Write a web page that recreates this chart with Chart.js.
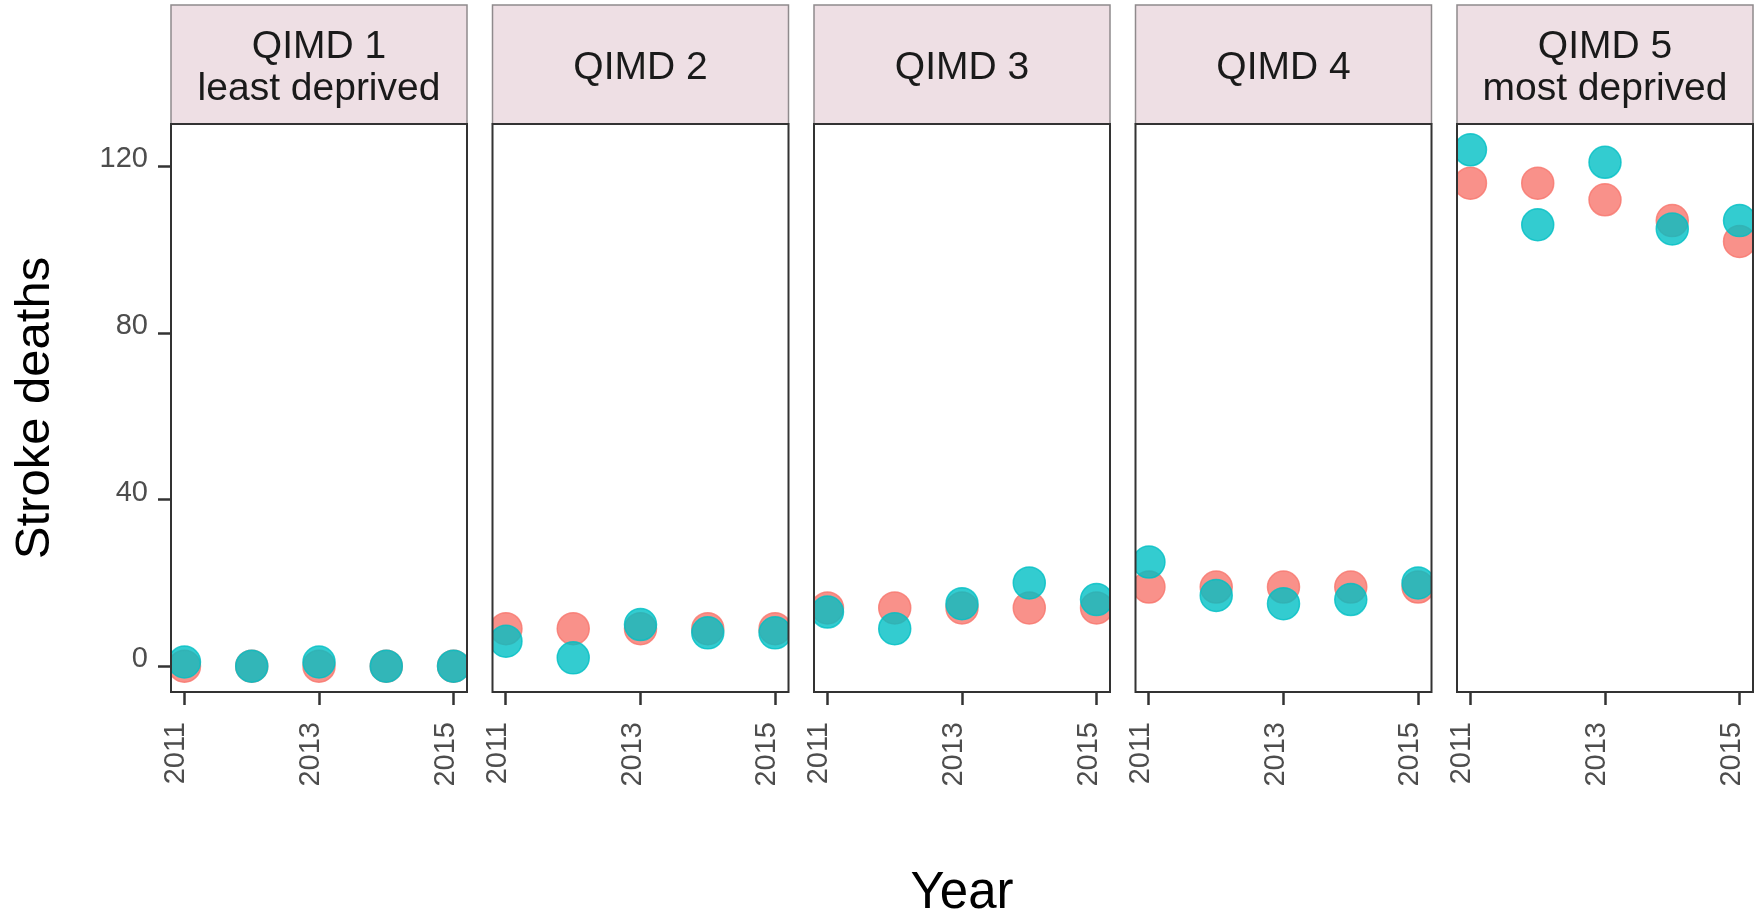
<!DOCTYPE html>
<html><head><meta charset="utf-8">
<script src="https://cdn.jsdelivr.net/npm/chart.js@4/dist/chart.umd.min.js"></script>
<style>
html,body{margin:0;padding:0;background:#fff;overflow:hidden;width:1756px;height:915px;}
#wrap{position:relative;width:1756px;height:915px;overflow:hidden;background:#fff;}
canvas{position:absolute;top:0;}
</style></head><body><div id="wrap"></div>
<script>
// ---- data ----
const years = [2011, 2012, 2013, 2014, 2015];
const panelTitles = [['QIMD 1', 'least deprived'], ['QIMD 2'], ['QIMD 3'], ['QIMD 4'], ['QIMD 5', 'most deprived']];
const seriesNames = ['Series 1', 'Series 2'];
const redQ1 = [0, 0, 0, 0, 0];
const tealQ1 = [1, 0, 1, 0, 0];
const redQ2 = [9, 9, 9, 9, 9];
const tealQ2 = [6, 2, 10, 8, 8];
const redQ3 = [14, 14, 14, 14, 14];
const tealQ3 = [13, 9, 15, 20, 16];
const redQ4 = [19, 19, 19, 19, 19];
const tealQ4 = [25, 17, 15, 16, 20];
const redQ5 = [116, 116, 112, 107, 102];
const tealQ5 = [124, 106, 121, 105, 107];
const xTickValues = [2011, 2013, 2015];
const yTickValues = [0, 40, 80, 120];
const yAxisTitle = 'Stroke deaths';
const xAxisTitle = 'Year';

const redSeries = [redQ1, redQ2, redQ3, redQ4, redQ5];
const tealSeries = [tealQ1, tealQ2, tealQ3, tealQ4, tealQ5];

// ---- layout / style ----
Chart.defaults.font.family = "'Liberation Sans', Arial, Helvetica, sans-serif";
const RED = 'rgba(248,118,109,0.8)';
const TEAL = 'rgba(0,191,196,0.8)';
const PANEL_W = 296, GAP = 25.5, FIRST_LEFT = 171;
const STRIP_TOP = 5, STRIP_H = 119, AREA_BOTTOM = 692, H = 915;
const SIDE = 60;

const stripPlugin = {
  id: 'strip',
  beforeDraw(chart) {
    const {ctx, chartArea: a} = chart;
    ctx.save();
    ctx.fillStyle = '#EEDFE4';
    ctx.fillRect(a.left, STRIP_TOP, a.right - a.left, STRIP_H);
    ctx.strokeStyle = '#8f8a8c';
    ctx.lineWidth = 1.5;
    ctx.strokeRect(a.left, STRIP_TOP, a.right - a.left, STRIP_H);
    ctx.restore();
  },
  afterDraw(chart) {
    const {ctx, chartArea: a} = chart;
    ctx.save();
    ctx.strokeStyle = '#333333';
    ctx.lineWidth = 2;
    ctx.strokeRect(a.left, a.top, a.right - a.left, a.bottom - a.top);
    ctx.restore();
  }
};

const wrap = document.getElementById('wrap');
for (let i = 0; i < 5; i++) {
  const panelLeft = FIRST_LEFT + i * (PANEL_W + GAP);
  let canvasLeft, padLeft;
  if (i === 0) { canvasLeft = 0; padLeft = 0; }
  else { canvasLeft = Math.floor(panelLeft - SIDE); padLeft = panelLeft - canvasLeft; }
  const innerLeft = (i === 0) ? FIRST_LEFT : padLeft;
  const cw = Math.ceil(innerLeft + PANEL_W + SIDE);
  const padRight = cw - innerLeft - PANEL_W;
  const cv = document.createElement('canvas');
  cv.width = cw; cv.height = H;
  cv.style.left = canvasLeft + 'px';
  cv.style.width = cw + 'px'; cv.style.height = H + 'px';
  wrap.appendChild(cv);

  const lines = panelTitles[i].length;
  const titleFont = 39, titleLH = 42;
  const tPad = (STRIP_H - lines * titleLH) / 2;
  const shift = 3.5;

  new Chart(cv, {
    type: 'scatter',
    data: {
      datasets: [
        { label: seriesNames[0], order: 1, data: years.map((y, k) => ({x: y, y: redSeries[i][k]})),
          backgroundColor: RED, borderColor: RED, borderWidth: 1.5, pointRadius: 16, clip: 0 },
        { label: seriesNames[1], order: 0, data: years.map((y, k) => ({x: y, y: tealSeries[i][k]})),
          backgroundColor: TEAL, borderColor: TEAL, borderWidth: 1.5, pointRadius: 16, clip: 0 }
      ]
    },
    options: {
      responsive: false,
      animation: false,
      devicePixelRatio: 1,
      events: [],
      layout: { padding: { top: STRIP_TOP, bottom: 0, left: padLeft, right: padRight } },
      plugins: {
        legend: { display: false },
        tooltip: { enabled: false },
        title: {
          display: true, text: panelTitles[i], fullSize: false, color: '#1a1a1a',
          font: { size: titleFont, lineHeight: titleLH / titleFont, weight: 'normal' },
          padding: { top: tPad + shift, bottom: tPad - shift }
        }
      },
      scales: {
        x: {
          type: 'linear', min: 2010.8, max: 2015.2,
          afterBuildTicks: s => { s.ticks = xTickValues.map(v => ({value: v})); },
          afterFit: s => { s.height = H - AREA_BOTTOM; },
          grid: { display: true, drawOnChartArea: false, drawTicks: true, tickLength: 13, tickWidth: 2.5, tickColor: '#333333' },
          border: { display: false },
          ticks: { autoSkip: false, minRotation: 90, maxRotation: 90, padding: 17, labelOffset: -8,
                   color: '#4d4d4d', font: { size: 29 }, callback: v => String(v) },
          title: { display: i === 2, text: xAxisTitle, color: '#000', font: { size: 51, lineHeight: 1 }, padding: { top: 0, bottom: -4 } }
        },
        y: {
          type: 'linear', min: -6.2, max: 130.2, display: i === 0,
          afterBuildTicks: s => { s.ticks = yTickValues.map(v => ({value: v})); },
          afterFit: s => { s.width = (i === 0) ? FIRST_LEFT : 0; },
          grid: { display: true, drawOnChartArea: false, drawTicks: true, tickLength: 13, tickWidth: 2.5, tickColor: '#333333' },
          border: { display: false },
          ticks: { padding: 10, labelOffset: -7, color: '#4d4d4d', font: { size: 29 }, callback: v => String(v) },
          title: { display: true, text: yAxisTitle, color: '#000', font: { size: 49, lineHeight: 1 }, padding: { top: 10.5, bottom: 0 } }
        }
      }
    },
    plugins: [stripPlugin]
  });
}
</script>
</body></html>
